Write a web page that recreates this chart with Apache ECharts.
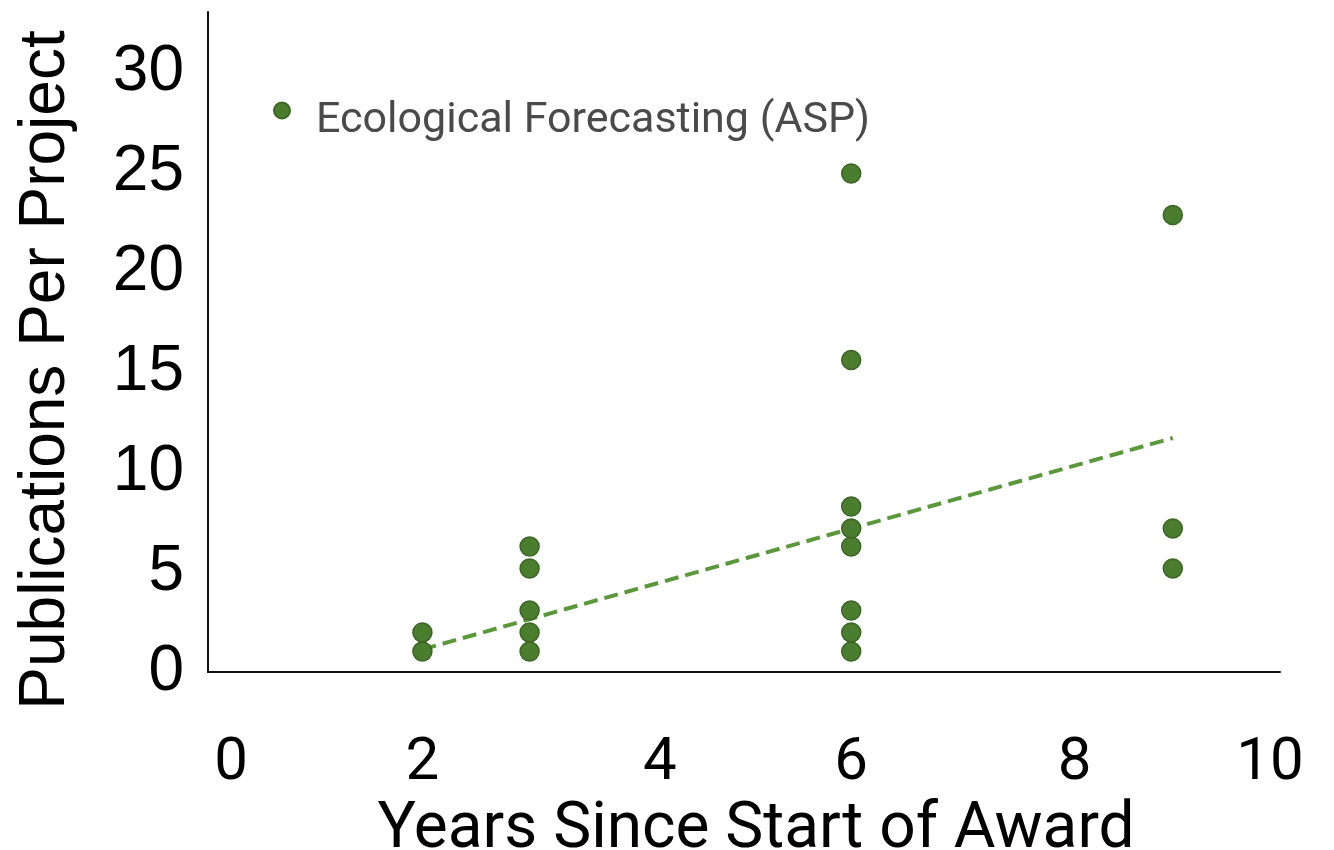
<!DOCTYPE html>
<html>
<head>
<meta charset="utf-8">
<script src="https://cdn.jsdelivr.net/npm/echarts@6/dist/echarts.min.js"></script>
<style>
  html, body { margin: 0; padding: 0; background: #ffffff; }
  #chart { width: 1334px; height: 850px; }
</style>
</head>
<body>
<div id="chart"></div>
<script>
// Publications per project, grouped by years since the award started
const seriesName = 'Ecological Forecasting (ASP)';
const years2 = [1.02, 1.98];
const years3 = [1.02, 1.98, 3.07, 5.18, 6.27];
const years6 = [1.02, 1.98, 3.07, 6.27, 7.18, 8.27, 15.6, 24.93];
const years9 = [5.18, 7.18, 22.85];
// Fitted trend, endpoints at year 2 and year 9
const trendX = [2, 9];
const trendY = [1.13, 11.7];
const xTicks = [0, 2, 4, 6, 8, 10];
const yTicks = [0, 5, 10, 15, 20, 25, 30];

const points = [];
[[2, years2], [3, years3], [6, years6], [9, years9]].forEach(([yr, vals]) => {
  vals.forEach(v => points.push([yr, v]));
});
const trend = trendX.map((x, i) => [x, trendY[i]]);

// horizontal nudges for some x tick labels (px, positive = right)
const xLabelShift = { 0: 23, 4: 23, 8: 9, 10: -10 };
const xRich = {};
Object.keys(xLabelShift).forEach(k => {
  const s = xLabelShift[k];
  xRich['s' + k] = {
    fontFamily: 'Roboto', fontSize: 60, color: '#000',
    padding: s > 0 ? [0, 0, 0, 2 * s] : [0, -2 * s, 0, 0]
  };
});

const chart = echarts.init(document.getElementById('chart'), null, { renderer: 'canvas' });
chart.setOption({
  backgroundColor: '#ffffff',
  animation: false,
  grid: { left: 208, right: 54, top: 12, bottom: 178, outerBoundsMode: 'none', containLabel: false },
  legend: {
    data: [seriesName],
    left: 268,
    top: 95,
    icon: 'circle',
    itemWidth: 16,
    itemHeight: 16,
    formatter: name => '{t|' + name + '}',
    textStyle: {
      rich: {
        t: { fontFamily: 'Roboto', fontSize: 43, color: '#4a4a4a', padding: [22, 0, 0, 21] }
      }
    }
  },
  xAxis: {
    type: 'value',
    min: 0,
    max: 10,
    interval: 2,
    name: 'Years Since Start of Award',
    nameLocation: 'middle',
    nameGap: 118,
    nameTextStyle: { fontFamily: 'Roboto', fontSize: 64, color: '#000', padding: [0, 0, 0, 24] },
    axisLine: { show: true, onZero: false, lineStyle: { color: '#111', width: 2 } },
    axisTick: { show: false },
    splitLine: { show: false },
    axisLabel: {
      fontFamily: 'Roboto', fontSize: 60, color: '#000', margin: 62,
      formatter: v => {
        if (!xTicks.includes(v)) return '';
        return xLabelShift[v] !== undefined ? '{s' + v + '|' + v + '}' : String(v);
      },
      rich: xRich
    }
  },
  yAxis: {
    type: 'value',
    min: 0,
    max: 33,
    interval: 5,
    name: 'Publications Per Project',
    nameLocation: 'middle',
    nameGap: 130,
    nameTextStyle: { fontFamily: 'Liberation Sans', fontSize: 64, color: '#000', padding: [0, 56, 0, 0] },
    axisLine: { show: true, lineStyle: { color: '#111', width: 2 } },
    axisTick: { show: false },
    splitLine: { show: false },
    axisLabel: {
      fontFamily: 'Liberation Sans', fontSize: 64, color: '#000', margin: 24,
      formatter: v => (yTicks.includes(v) ? String(v) : '')
    }
  },
  series: [
    {
      name: 'trend',
      type: 'line',
      data: trend,
      symbol: 'none',
      silent: true,
      lineStyle: { color: '#5b983c', width: 4, type: [14, 7] },
      z: 1
    },
    {
      name: seriesName,
      type: 'scatter',
      data: points,
      symbolSize: 19,
      itemStyle: { color: '#4a7d2e', borderColor: '#3b6624', borderWidth: 1.5, opacity: 1 },
      z: 2
    }
  ]
});
</script>
</body>
</html>
